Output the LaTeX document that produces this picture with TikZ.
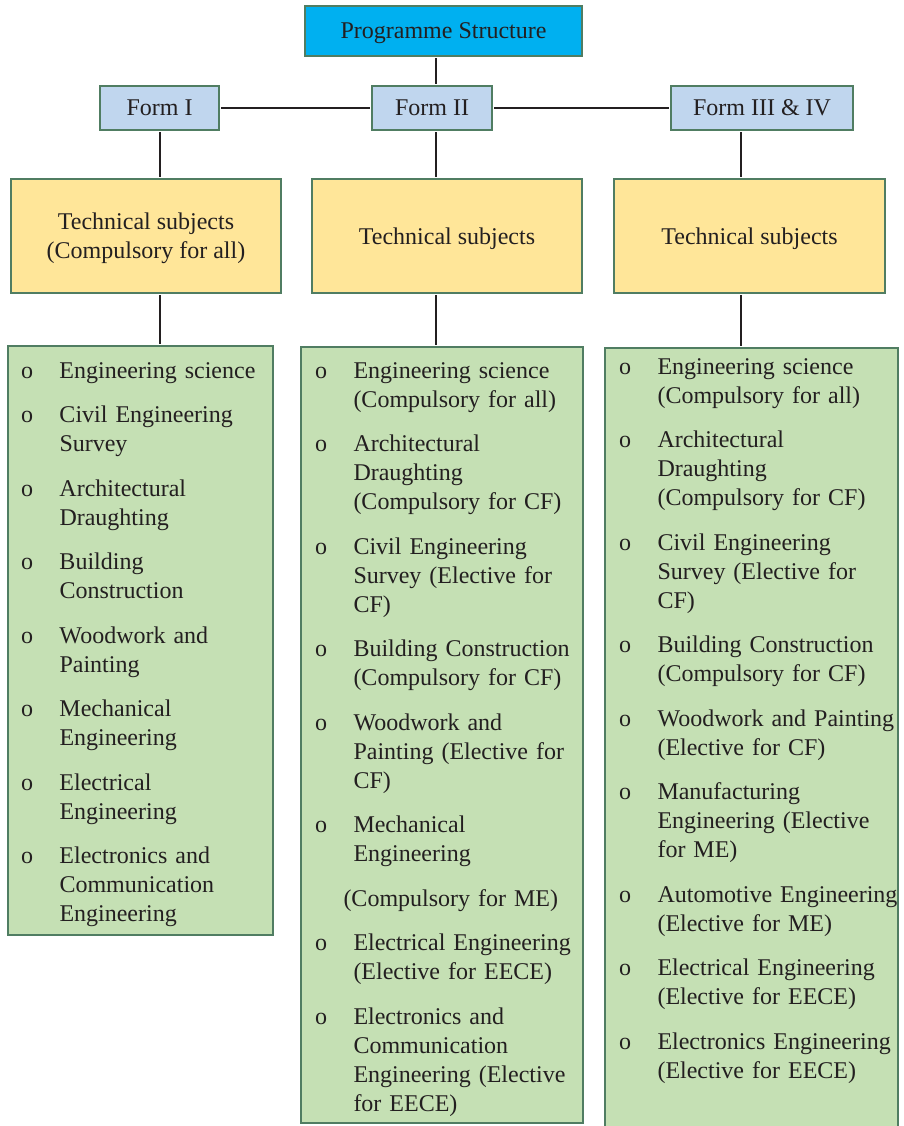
\documentclass[tikz,border=0pt]{standalone}
\usepackage{fontspec}
\setmainfont{Liberation Serif}
\usepackage{tikz}
\usetikzlibrary{positioning}

\definecolor{boxline}{HTML}{507D62}
\definecolor{topfill}{HTML}{00B0F0}
\definecolor{formfill}{HTML}{C0D6EE}
\definecolor{techfill}{HTML}{FFE699}
\definecolor{listfill}{HTML}{C5E0B4}
\definecolor{inkgray}{HTML}{231F20}

\newcommand{\subj}[1]{\par\noindent\hangindent=38.5pt\hangafter=1\strut\makebox[38.5pt][l]{o}#1}
\newcommand{\subjnote}[1]{\par\noindent\strut\hspace*{28.5pt}#1}

\begin{document}
\begin{tikzpicture}[x=1pt,y=-1pt,
	box/.style={draw=boxline, line width=2.4pt, inner sep=0pt, text=inkgray, font=\fontsize{24}{29}\selectfont, align=center, text depth=0pt},
	topbox/.style={box, fill=topfill, minimum width=277pt, minimum height=50pt},
	formbox/.style={box, fill=formfill, minimum height=44pt},
	techbox/.style={box, fill=techfill, minimum width=270pt, minimum height=114pt},
	listbox/.style={box, fill=listfill},
	subjlist/.style={inner sep=0pt, text=inkgray, font=\fontsize{24}{29}\selectfont, text width=300pt, align=left, anchor=north west, execute at begin node={\setlength{\parskip}{15.5pt}}},
	link/.style={draw=inkgray, line width=2.4pt, shorten >=1.2pt, shorten <=1.2pt}]
			\useasboundingbox (0,0) rectangle (903,1126);
			
			\node[topbox] (prog) at (443.5,31) {Programme Structure};
			
			\node[formbox, minimum width=119pt] (form1) at (159.5,108) {Form I};
			\node[formbox, minimum width=120pt] (form2) at (432,108) {Form II};
			\node[formbox, minimum width=182pt] (form3) at (762,108) {Form III \& IV};
			
			\node[techbox] (tech1) at (146,236) {Technical subjects\\(Compulsory for all)};
			\node[techbox] (tech2) at (447,236) {Technical subjects};
			\node[techbox, minimum width=271pt] (tech3) at (749.5,236) {Technical subjects};
			
			\node[listbox, minimum width=265pt, minimum height=589pt] (list1) at (140.5,640.5) {};
			\node[listbox, minimum width=282pt, minimum height=776pt] (list2) at (442,735) {};
			\node[listbox, minimum width=293pt, minimum height=792pt] (list3) at (751.5,744) {};
			
			\coordinate (s1) at (160,0);
			\coordinate (s2) at (436,0);
			\coordinate (s3) at (741,0);
			
			\draw[link] (prog.south -| s2) -- (form2.north -| s2);
			\draw[link] (form1.east) -- (form2.west);
			\draw[link] (form2.east) -- (form3.west);
			\foreach \i in {1,2,3} {
				\draw[link] (form\i.south -| s\i) -- (tech\i.north -| s\i);
				\draw[link] (tech\i.south -| s\i) -- (list\i.north -| s\i);
			}
			
			\node[subjlist] (items1) at ([xshift=14pt, yshift=11.3pt]list1.north west) {
				\subj{Engineering science}
				\subj{Civil Engineering\newline Survey}
				\subj{Architectural\newline Draughting}
				\subj{Building\newline Construction}
				\subj{Woodwork and\newline Painting}
				\subj{Mechanical\newline Engineering}
				\subj{Electrical\newline Engineering}
				\subj{Electronics and\newline Communication\newline Engineering}\par};
			
			\node[subjlist] (items2) at ([xshift=15pt, yshift=12.3pt]list2.north west) {
				\subj{Engineering science\newline (Compulsory for all)}
				\subj{Architectural\newline Draughting\newline (Compulsory for CF)}
				\subj{Civil Engineering\newline Survey (Elective for\newline CF)}
				\subj{Building Construction\newline (Compulsory for CF)}
				\subj{Woodwork and\newline Painting (Elective for\newline CF)}
				\subj{Mechanical\newline Engineering}
				\subjnote{(Compulsory for ME)}
				\subj{Electrical Engineering\newline (Elective for EECE)}
				\subj{Electronics and\newline Communication\newline Engineering (Elective\newline for EECE)}\par};
			
			\node[subjlist] (items3) at ([xshift=15pt, yshift=17.3pt]list3.north west) {
				\subj{Engineering science\newline (Compulsory for all)}
				\subj{Architectural\newline Draughting\newline (Compulsory for CF)}
				\subj{Civil Engineering\newline Survey (Elective for\newline CF)}
				\subj{Building Construction\newline (Compulsory for CF)}
				\subj{Woodwork and Painting\newline (Elective for CF)}
				\subj{Manufacturing\newline Engineering (Elective\newline for ME)}
				\subj{Automotive Engineering\newline (Elective for ME)}
				\subj{Electrical Engineering\newline (Elective for EECE)}
				\subj{Electronics Engineering\newline (Elective for EECE)}\par};
			
\end{tikzpicture}
\end{document}
